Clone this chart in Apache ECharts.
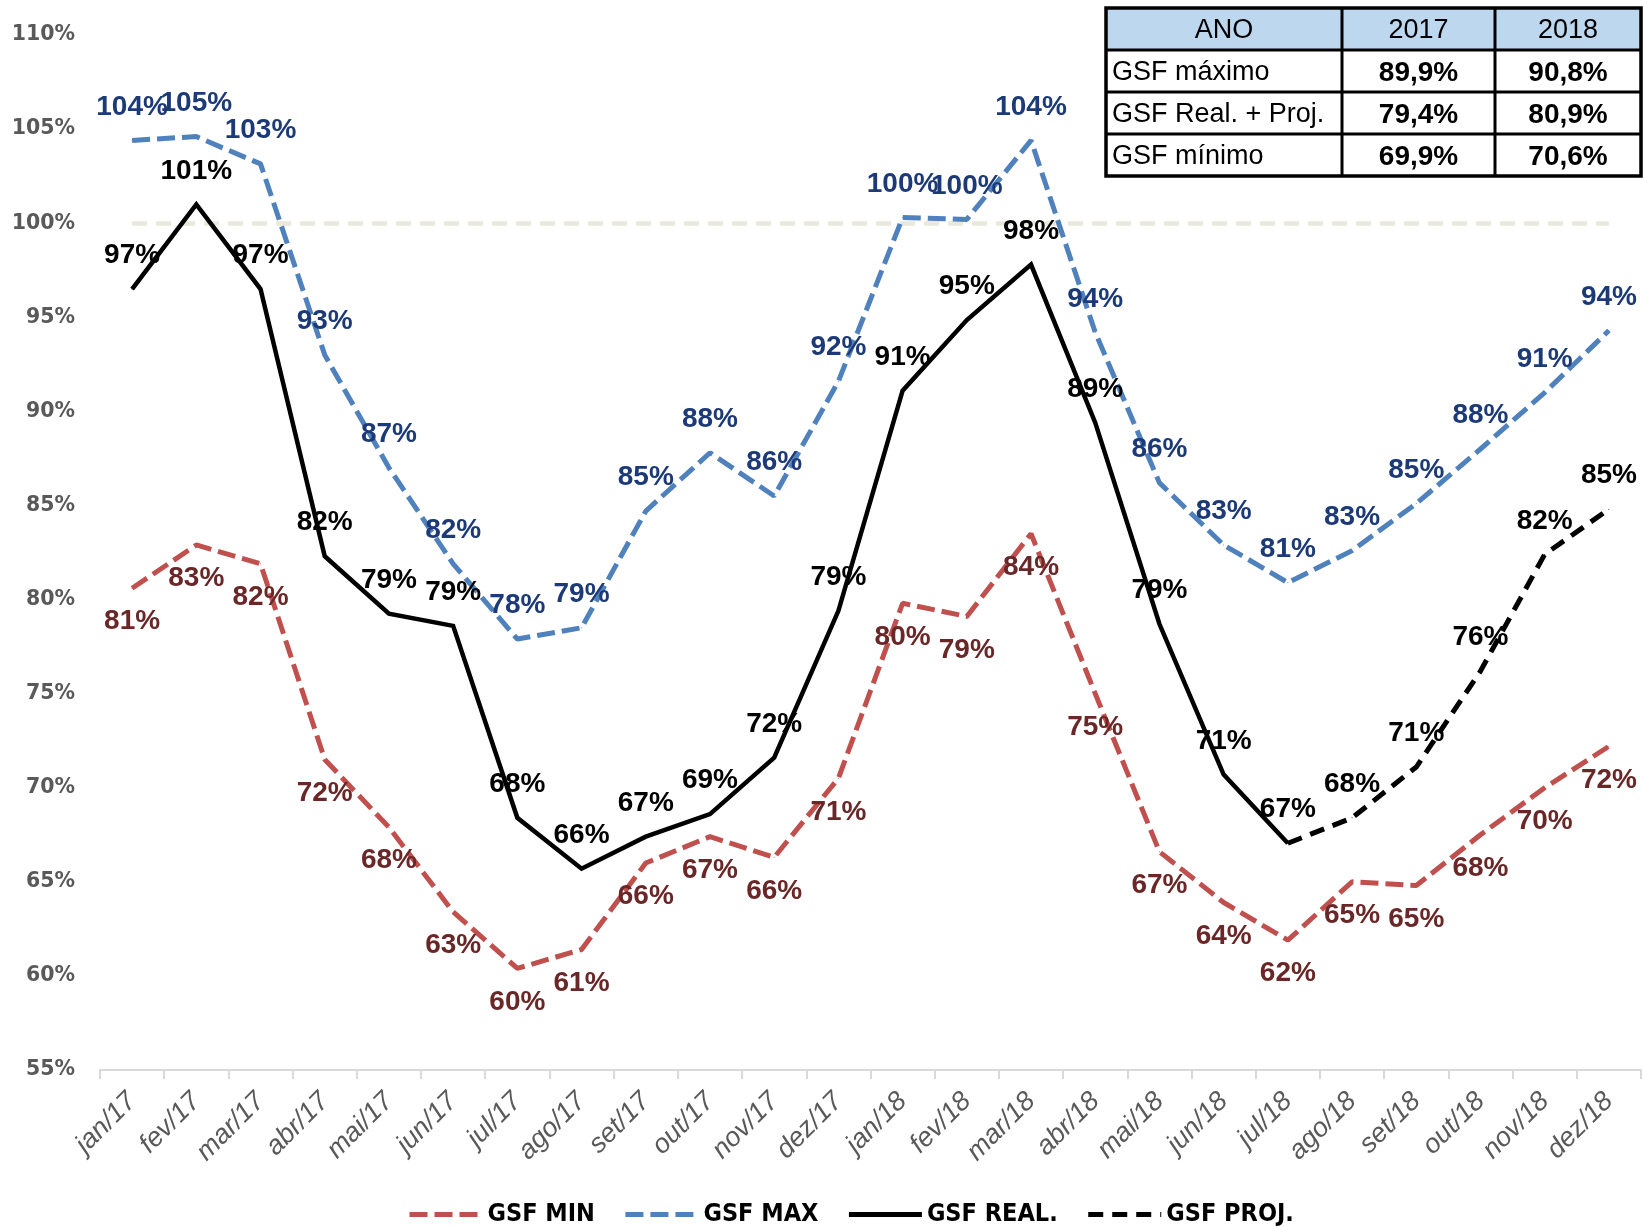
<!DOCTYPE html>
<html>
<head>
<meta charset="utf-8">
<script src="https://cdn.jsdelivr.net/npm/echarts@6/dist/echarts.min.js"></script>
<style>
html,body{margin:0;padding:0;background:#fff;}
#chart{width:1643px;height:1226px;}
</style>
</head>
<body>
<div id="chart"></div>
<script>
const categories = ['jan/17','fev/17','mar/17','abr/17','mai/17','jun/17','jul/17','ago/17','set/17','out/17','nov/17','dez/17',
  'jan/18','fev/18','mar/18','abr/18','mai/18','jun/18','jul/18','ago/18','set/18','out/18','nov/18','dez/18'];
const gsfMin = [80.6, 82.9, 81.9, 71.5, 67.9, 63.4, 60.4, 61.4, 66.0, 67.4, 66.3, 70.5,
  79.8, 79.1, 83.5, 75.0, 66.6, 63.9, 61.9, 65.0, 64.8, 67.5, 70.0, 72.2];
const gsfMax = [104.4, 104.6, 103.15, 93.0, 87.0, 81.9, 77.9, 78.5, 84.7, 87.8, 85.5, 91.6,
  100.3, 100.2, 104.4, 94.2, 86.2, 82.9, 80.9, 82.6, 85.1, 88.0, 91.0, 94.3];
const gsfReal = [96.5, 101.0, 96.5, 82.3, 79.25, 78.6, 68.4, 65.7, 67.4, 68.6, 71.6, 79.4,
  91.1, 94.85, 97.8, 89.4, 78.7, 70.7, 67.05, null, null, null, null, null];
const gsfProj = [null, null, null, null, null, null, null, null, null, null, null, null,
  null, null, null, null, null, null, 67.05, 68.4, 71.1, 76.2, 82.4, 84.8];
const refLevel = 100;
const yTicks = {min: 55, max: 110, interval: 5};
const tableHeader = ['ANO', '2017', '2018'];
const tableRows = [
  ['GSF máximo', '89,9%', '90,8%'],
  ['GSF Real. + Proj.', '79,4%', '80,9%'],
  ['GSF mínimo', '69,9%', '70,6%']
];

const chart = echarts.init(document.getElementById('chart'));
const labelFont = 'Liberation Sans, Arial, sans-serif';
const fmt = p => (p.value == null ? '' : Math.round(p.value) + '%');

function lbl(color, pos) {
  return {show: true, position: pos, distance: 19, formatter: fmt, color: color,
    fontFamily: labelFont, fontWeight: 'bold', fontSize: 28};
}

const projData = gsfProj.map((v, i) => (v != null && gsfReal[i] != null) ? {value: v, label: {show: false}} : v);

// table graphics
const tX = [1106, 1342, 1495, 1641];
const tY = [8, 50, 92, 134, 176];
const g = [];
g.push({type: 'rect', z: 100, shape: {x: tX[0], y: tY[0], width: tX[3] - tX[0], height: tY[1] - tY[0]}, style: {fill: '#BDD7EE'}});
g.push({type: 'rect', z: 100, shape: {x: tX[0], y: tY[1], width: tX[3] - tX[0], height: tY[4] - tY[1]}, style: {fill: '#FFFFFF'}});
for (let i = 1; i < 4; i++) {
  g.push({type: 'line', z: 101, shape: {x1: tX[0], y1: tY[i], x2: tX[3], y2: tY[i]}, style: {stroke: '#000', lineWidth: 3}});
}
for (let j = 1; j < 3; j++) {
  g.push({type: 'line', z: 101, shape: {x1: tX[j], y1: tY[0], x2: tX[j], y2: tY[4]}, style: {stroke: '#000', lineWidth: 3}});
}
g.push({type: 'rect', z: 102, shape: {x: tX[0], y: tY[0], width: tX[3] - tX[0], height: tY[4] - tY[0]}, style: {fill: 'none', stroke: '#000', lineWidth: 3.5}});
const tFont = 'Liberation Sans, Arial, sans-serif';
tableHeader.forEach((t, j) => {
  g.push({type: 'text', z: 103, x: (tX[j] + tX[j + 1]) / 2, y: (tY[0] + tY[1]) / 2 + 2,
    style: {text: t, fill: '#000', font: '27px ' + tFont, textAlign: 'center', textVerticalAlign: 'middle'}});
});
tableRows.forEach((row, r) => {
  const cy = (tY[r + 1] + tY[r + 2]) / 2 + 2;
  g.push({type: 'text', z: 103, x: tX[0] + 6, y: cy,
    style: {text: row[0], fill: '#000', font: '27px ' + tFont, textAlign: 'left', textVerticalAlign: 'middle'}});
  for (let j = 1; j < 3; j++) {
    g.push({type: 'text', z: 103, x: (tX[j] + tX[j + 1]) / 2, y: cy,
      style: {text: row[j], fill: '#000', font: 'bold 28px ' + tFont, textAlign: 'center', textVerticalAlign: 'middle'}});
  }
});

const option = {
  animation: false,
  backgroundColor: '#fff',
  grid: {left: 100, right: 2, top: 35, bottom: 156, containLabel: false},
  legend: {
    top: 1197, left: 402,
    itemWidth: 73, itemHeight: 14, itemGap: 28,
    itemStyle: {opacity: 0},
    lineStyle: {width: 5},
    textStyle: {fontFamily: 'DejaVu Sans Condensed, Liberation Sans, Arial, sans-serif', fontWeight: 'bold', fontSize: 25, color: '#000'},
    data: ['GSF MIN', 'GSF MAX', 'GSF REAL.', 'GSF PROJ.']
  },
  xAxis: {
    type: 'category', data: categories, boundaryGap: true,
    axisLine: {show: true, lineStyle: {color: '#D9D9D9', width: 2}},
    axisTick: {show: true, length: 9, lineStyle: {color: '#D9D9D9', width: 2}},
    axisLabel: {rotate: 45, interval: 0, margin: 27, color: '#595959', fontFamily: labelFont,
      fontStyle: 'italic', fontSize: 27}
  },
  yAxis: {
    type: 'value', min: yTicks.min, max: yTicks.max, interval: yTicks.interval,
    axisLine: {show: false}, axisTick: {show: false}, splitLine: {show: false},
    axisLabel: {formatter: '{value}%', color: '#595959', fontFamily: 'DejaVu Sans, Verdana, sans-serif',
      fontWeight: 'bold', fontSize: 20.5, margin: 25}
  },
  series: [
    {
      name: 'GSF MIN', type: 'line', data: gsfMin, z: 2,
      symbol: 'circle', symbolSize: 1, showSymbol: true, showAllSymbol: true,
      itemStyle: {color: '#C0504D'},
      lineStyle: {color: '#C0504D', width: 5, type: [18, 7]},
      label: lbl('#6A2727', 'bottom'),
      markLine: {
        silent: true, symbol: 'none', label: {show: false}, z: 1,
        lineStyle: {color: '#EAE8DA', width: 4.5, type: [15, 9]},
        data: [[{coord: [categories[0], refLevel]}, {coord: [categories[categories.length - 1], refLevel]}]]
      }
    },
    {
      name: 'GSF MAX', type: 'line', data: gsfMax, z: 3,
      symbol: 'circle', symbolSize: 1, showSymbol: true, showAllSymbol: true,
      itemStyle: {color: '#4F81BD'},
      lineStyle: {color: '#4F81BD', width: 5, type: [18, 7]},
      label: lbl('#1C3A78', 'top')
    },
    {
      name: 'GSF REAL.', type: 'line', data: gsfReal, z: 4,
      symbol: 'circle', symbolSize: 1, showSymbol: true, showAllSymbol: true,
      itemStyle: {color: '#000'},
      lineStyle: {color: '#000', width: 4.5, type: 'solid', join: 'miter'},
      label: lbl('#000', 'top')
    },
    {
      name: 'GSF PROJ.', type: 'line', data: projData, z: 4,
      symbol: 'circle', symbolSize: 1, showSymbol: true, showAllSymbol: true,
      itemStyle: {color: '#000'},
      lineStyle: {color: '#000', width: 5, type: [15, 9]},
      label: lbl('#000', 'top')
    }
  ],
  graphic: g
};
chart.setOption(option);
</script>
</body>
</html>
